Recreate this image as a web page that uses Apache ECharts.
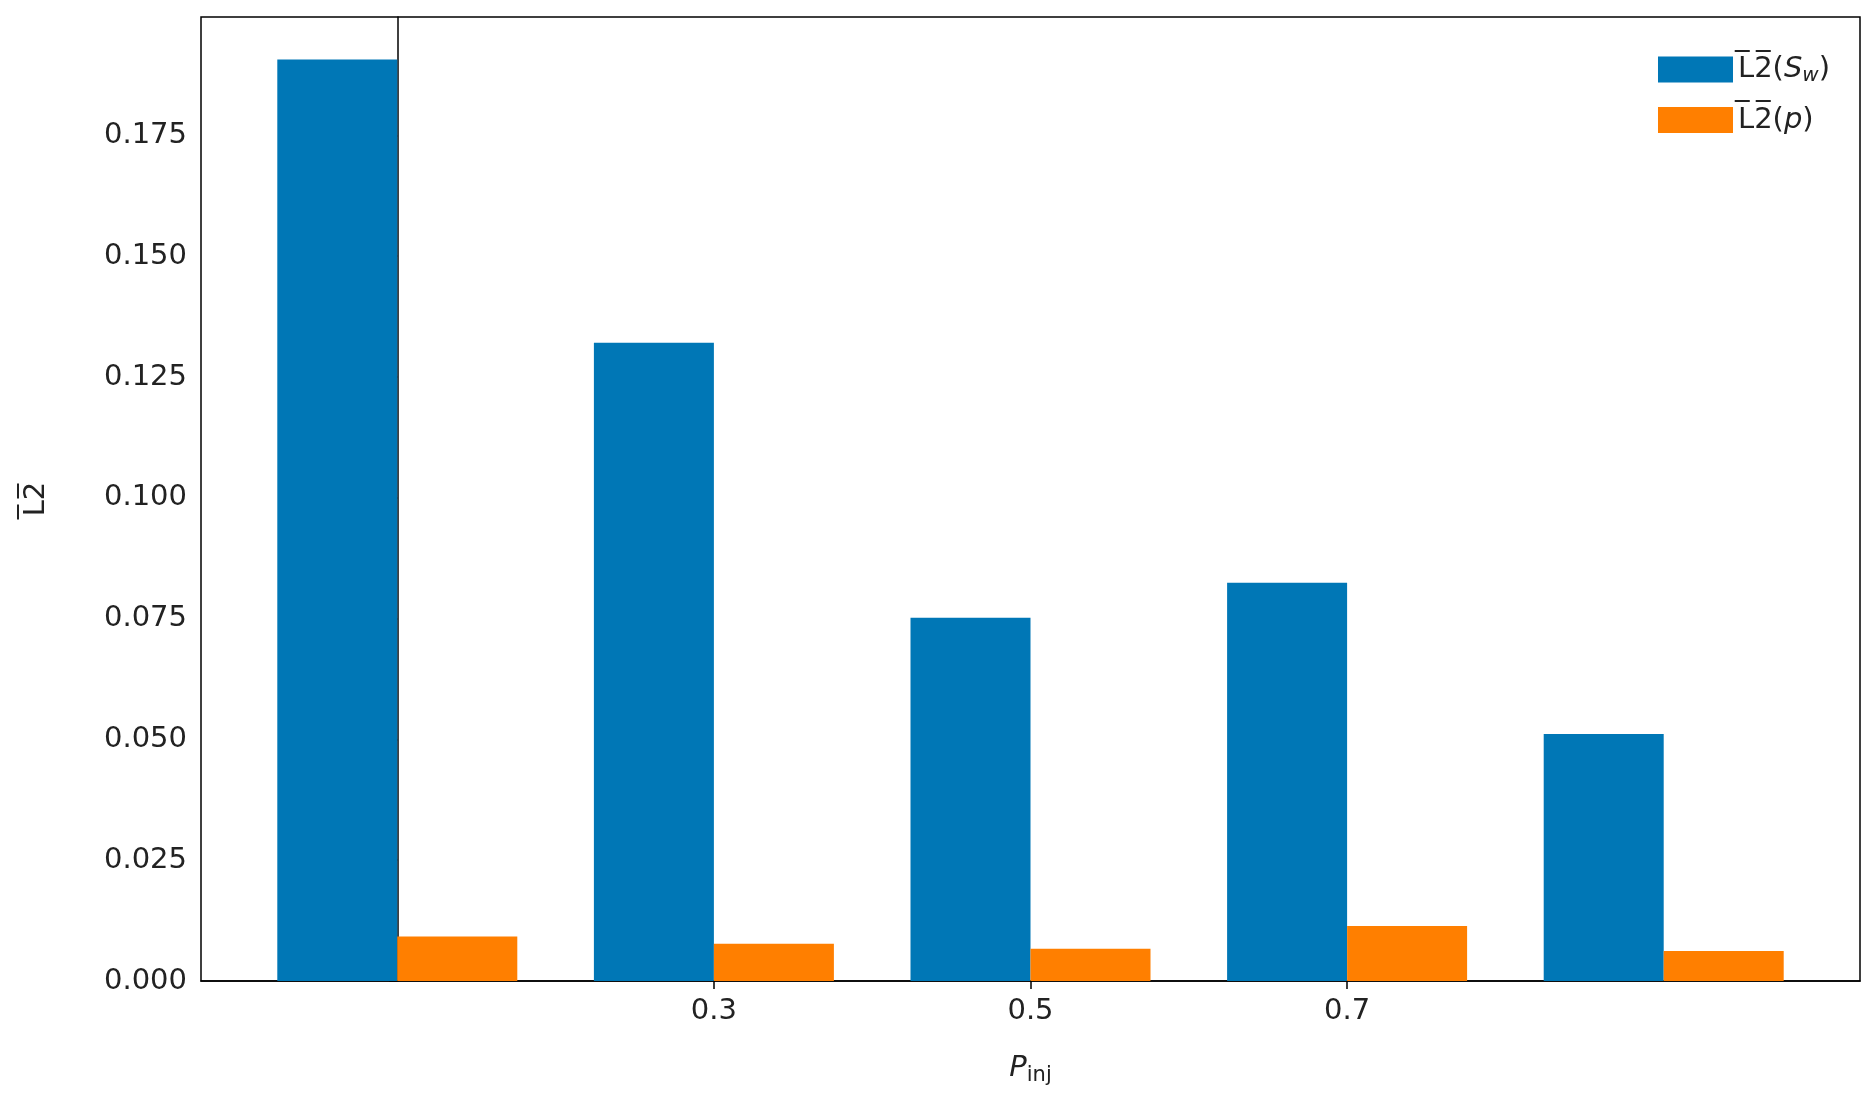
<!DOCTYPE html>
<html>
<head>
<meta charset="utf-8">
<script src="https://cdn.jsdelivr.net/npm/echarts@6/dist/echarts.min.js"></script>
<style>html,body{margin:0;background:#fff}#chart{width:1875px;height:1109px}</style>
</head>
<body>
<div id="chart"></div>
<script>
const categories = ["0.15", "0.3", "0.5", "0.7", "1"];
const swValues = [0.1907, 0.1321, 0.0752, 0.0824, 0.0511];
const pValues = [0.0092, 0.0077, 0.0067, 0.0114, 0.0062];
const yTicks = [0, 0.025, 0.05, 0.075, 0.1, 0.125, 0.15, 0.175];

const font = "DejaVu Sans";
const chart = echarts.init(document.getElementById("chart"));
chart.setOption({
  animation: false,
  textStyle: { fontFamily: font },
  grid: { left: 201, right: 15, top: 17, bottom: 128, show: true, borderColor: "#000", borderWidth: 1.5, backgroundColor: "transparent" },
  legend: {
    right: 40, top: 50, orient: "vertical", itemWidth: 75, itemHeight: 26, itemGap: 20,
    textStyle: {
      fontSize: 29, color: "#222",
      rich: { sub: { fontSize: 20, fontStyle: "italic", verticalAlign: "bottom", padding: [12, 0, 0, 0] }, it: { fontSize: 29, fontStyle: "italic" } }
    },
    formatter: n => n === "sw" ? "L\u03052\u0305({it|S}{sub|w})" : "L\u03052\u0305({it|p})",
    data: [{ name: "sw", icon: "rect" }, { name: "p", icon: "rect" }]
  },
  xAxis: {
    type: "value", min: -0.62, max: 4.62, interval: 1,
    splitLine: { show: false },
    axisLine: { lineStyle: { color: "#000", width: 1.5 } },
    axisTick: { show: true, length: 8, lineStyle: { color: "#000", width: 1.5 } },
    axisLabel: {
      fontSize: 29, color: "#222", margin: 16, showMinLabel: false, showMaxLabel: false,
      customValues: [0, 1, 2, 3, 4],
      formatter: v => categories[Math.round(v)] ?? ""
    },
    axisTick: { show: true, length: 8, customValues: [0, 1, 2, 3, 4], lineStyle: { color: "#000", width: 1.5 } },
    name: "{it|P}{sub|inj}", nameLocation: "middle", nameGap: 70,
    nameTextStyle: { fontSize: 29, color: "#222", rich: { it: { fontSize: 29, fontStyle: "italic" }, sub: { fontSize: 21, verticalAlign: "bottom", padding: [14, 0, 0, 0] } } }
  },
  yAxis: {
    type: "value", min: 0, max: 0.1995, interval: 0.025,
    splitLine: { show: false },
    axisLine: { show: true, lineStyle: { color: "#000", width: 1.5 } },
    axisTick: { show: true, length: 8, customValues: yTicks, lineStyle: { color: "#000", width: 1.5 } },
    axisLabel: { fontSize: 29, color: "#222", margin: 14, customValues: yTicks, formatter: v => v.toFixed(3) },
    name: "L\u03052\u0305", nameLocation: "middle", nameGap: 150, nameRotate: 90,
    nameTextStyle: { fontSize: 29, color: "#222" }
  },
  series: [
    { name: "sw", type: "bar", data: swValues.map((v, i) => [i, v]), barWidth: 120, barGap: "0%", itemStyle: { color: "#0077b6" } },
    { name: "p", type: "bar", data: pValues.map((v, i) => [i, v]), barWidth: 120, barGap: "0%", itemStyle: { color: "#ff7f00" } }
  ]
});
</script>
</body>
</html>
